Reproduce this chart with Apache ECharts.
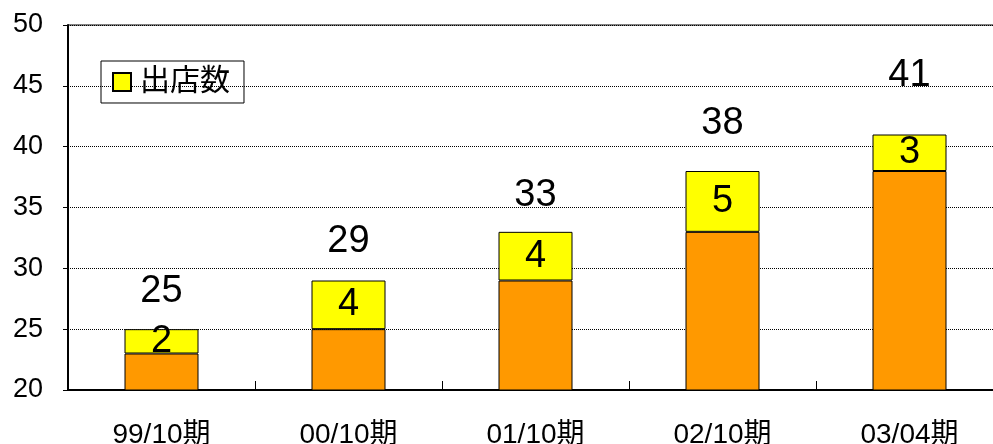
<!DOCTYPE html>
<html>
<head>
<meta charset="utf-8">
<script src="https://cdn.jsdelivr.net/npm/echarts@6/dist/echarts.min.js"></script>
<style>
    html, body {margin: 0; padding: 0; background: #ffffff;}
    #chart {width: 993px; height: 444px;}
</style>
</head>
<body>
<div id="chart"></div>
<script>
let periods = ['99/10期', '00/10期', '01/10期', '02/10期', '03/04期'];
let baseStores = [23, 25, 29, 33, 38];
let newStores = [2, 4, 4, 5, 3];
let totalStores = [25, 29, 33, 38, 41];

let font = '"Liberation Sans", Arial, "Noto Sans CJK JP", sans-serif';
// the total labels sit at slightly different heights above each bar
let totalLift = [18, 19, 17, 28, 39];

let chart = echarts.init(document.getElementById('chart'));
let totalData = [];
for (let i = 0; i < totalStores.length; i++) {
    totalData.push({value: totalStores[i], label: {distance: totalLift[i]}});
}

chart.setOption({
    backgroundColor: '#ffffff',
    animation: false,
    grid: {
        left: 68,
        width: 935,
        top: 25,
        bottom: 54,
        outerBoundsMode: 'none',
        containLabel: false,
        show: true,
        borderColor: '#000',
        borderWidth: 1
    },
    legend: {
        data: ['出店数'],
        left: 101,
        top: 61,
        orient: 'vertical',
        padding: [6, 14, 6, 11],
        borderColor: '#000',
        borderWidth: 1,
        itemWidth: 18,
        itemHeight: 18,
        itemGap: 0,
        icon: 'rect',
        textStyle: {fontSize: 30, color: '#000', fontFamily: font, padding: [0, 0, 0, 4]}
    },
    xAxis: {
        type: 'category',
        data: periods,
        axisLine: {lineStyle: {color: '#000', width: 2}},
        axisTick: {show: true, inside: true, length: 9, lineStyle: {color: '#000', width: 1}},
        axisLabel: {fontSize: 28, color: '#000', fontFamily: font, margin: 31}
    },
    yAxis: {
        type: 'value',
        min: 20,
        max: 50,
        interval: 5,
        axisLine: {show: true, lineStyle: {color: '#000', width: 2}},
        axisTick: {show: true, length: 5, lineStyle: {color: '#000', width: 1}},
        axisLabel: {fontSize: 27, color: '#000', fontFamily: font, margin: 25},
        splitLine: {show: true, lineStyle: {color: '#000', type: 'dotted', width: 1}}
    },
    series: [
        {
            name: '前期店舗数',
            type: 'bar',
            stack: 'stores',
            barWidth: 74,
            data: baseStores,
            itemStyle: {color: '#FF9900', borderColor: '#000', borderWidth: 1}
        },
        {
            name: '出店数',
            type: 'bar',
            stack: 'stores',
            barWidth: 74,
            data: newStores,
            itemStyle: {color: '#FFFF00', borderColor: '#000', borderWidth: 1},
            label: {
                show: true,
                position: 'inside',
                fontSize: 38,
                color: '#000',
                fontFamily: font
            }
        },
        {
            name: '合計',
            type: 'line',
            data: totalData,
            symbol: 'circle',
            symbolSize: 1,
            showSymbol: true,
            silent: true,
            itemStyle: {color: 'rgba(0,0,0,0)'},
            lineStyle: {width: 0, color: 'rgba(0,0,0,0)'},
            z: 10,
            label: {
                show: true,
                position: 'top',
                fontSize: 38,
                color: '#000',
                fontFamily: font
            }
        }
    ]
});
</script>
</body>
</html>
